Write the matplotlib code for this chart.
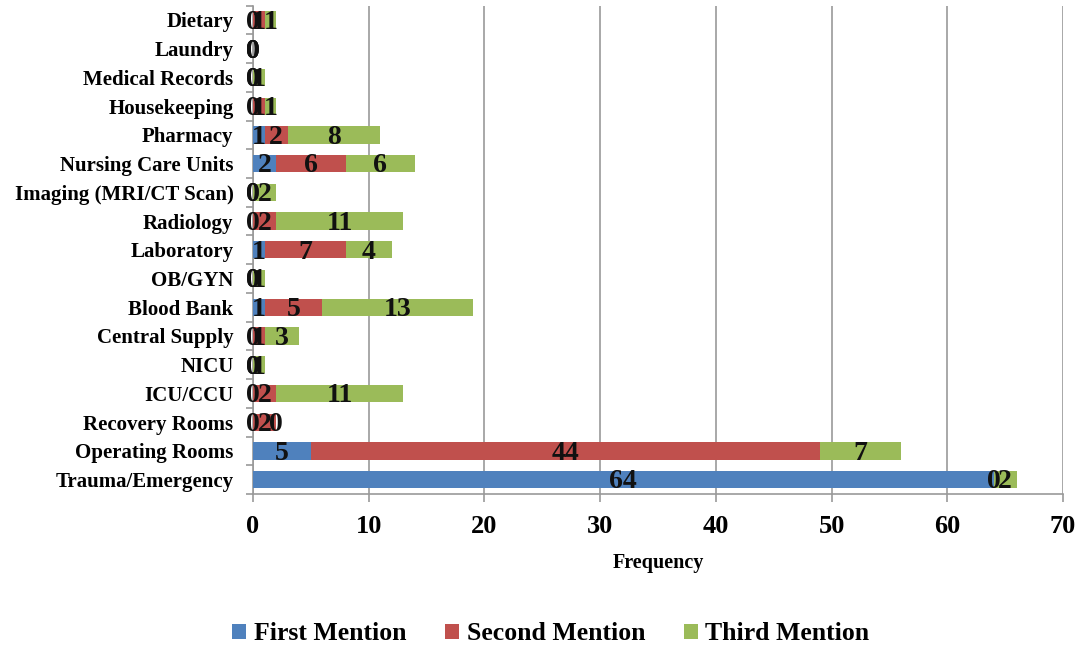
import matplotlib
matplotlib.use("Agg")
import matplotlib.pyplot as plt
import numpy as np

categories = ["Trauma/Emergency", "Operating Rooms", "Recovery Rooms", "ICU/CCU", "NICU",
              "Central Supply", "Blood Bank", "OB/GYN", "Laboratory", "Radiology",
              "Imaging (MRI/CT Scan)", "Nursing Care Units", "Pharmacy", "Housekeeping",
              "Medical Records", "Laundry", "Dietary"]
first_mention = [64, 5, 0, 0, 0, 0, 1, 0, 1, 0, 0, 2, 1, 0, 0, 0, 0]
second_mention = [0, 44, 2, 2, 0, 1, 5, 0, 7, 2, 0, 6, 2, 1, 0, 0, 1]
third_mention = [2, 7, 0, 11, 1, 3, 13, 1, 4, 11, 2, 6, 8, 1, 1, 0, 1]
series_names = ["First Mention", "Second Mention", "Third Mention"]
colors = ["#4F81BD", "#C0504D", "#9BBB59"]

plt.rcParams["font.family"] = ["Liberation Serif", "DejaVu Serif"]
plt.rcParams["font.weight"] = "bold"

fig = plt.figure(figsize=(10.84, 6.46), dpi=100)
ax = fig.add_axes([0.2334, 0.2353, 0.7472, 0.7560])

y = np.arange(len(categories))
left = np.zeros(len(categories))
for vals, name, col in zip([first_mention, second_mention, third_mention], series_names, colors):
    vals = np.array(vals, dtype=float)
    ax.barh(y, vals, left=left, height=0.6, color=col, label=name, zorder=3)
    for yi, l, v in zip(y, left, vals):
        ax.text(l + v / 2, yi - 0.08, f"{int(v)}", ha="center", va="center",
                fontsize=20, fontweight="bold", color="#111111", zorder=4)
    left += vals

ax.set_xlim(0, 70)
ax.set_ylim(-0.5, len(categories) - 0.5)
ax.set_xticks(np.arange(0, 71, 10))
ax.tick_params(axis="x", labelsize=19, length=6, color="#999999", width=1.2, pad=9)
ax.set_yticks(y)
ax.set_yticklabels(categories, fontsize=15, fontweight="bold")
ax.tick_params(axis="y", length=0, pad=14)
ax.set_yticks(np.arange(-0.5, len(categories), 1), minor=True)
ax.tick_params(axis="y", which="minor", length=5, color="#999999", width=1.2)
for t in ax.get_xticklabels():
    t.set_fontweight("bold")

ax.grid(axis="x", color="#999999", linewidth=1.2, zorder=0)
for s in ["top", "right"]:
    ax.spines[s].set_visible(False)
for s in ["left", "bottom"]:
    ax.spines[s].set_color("#999999")
    ax.spines[s].set_linewidth(1.2)

ax.set_xlabel("Frequency", fontsize=14.5, fontweight="bold", labelpad=11)

fig.legend(loc="lower center", bbox_to_anchor=(0.508, -0.035), ncol=3, frameon=False,
           prop={"size": 18.5, "weight": "bold"}, handlelength=0.55, handleheight=0.55,
           columnspacing=1.5, handletextpad=0.3)

fig.savefig("out.png", dpi=100)
